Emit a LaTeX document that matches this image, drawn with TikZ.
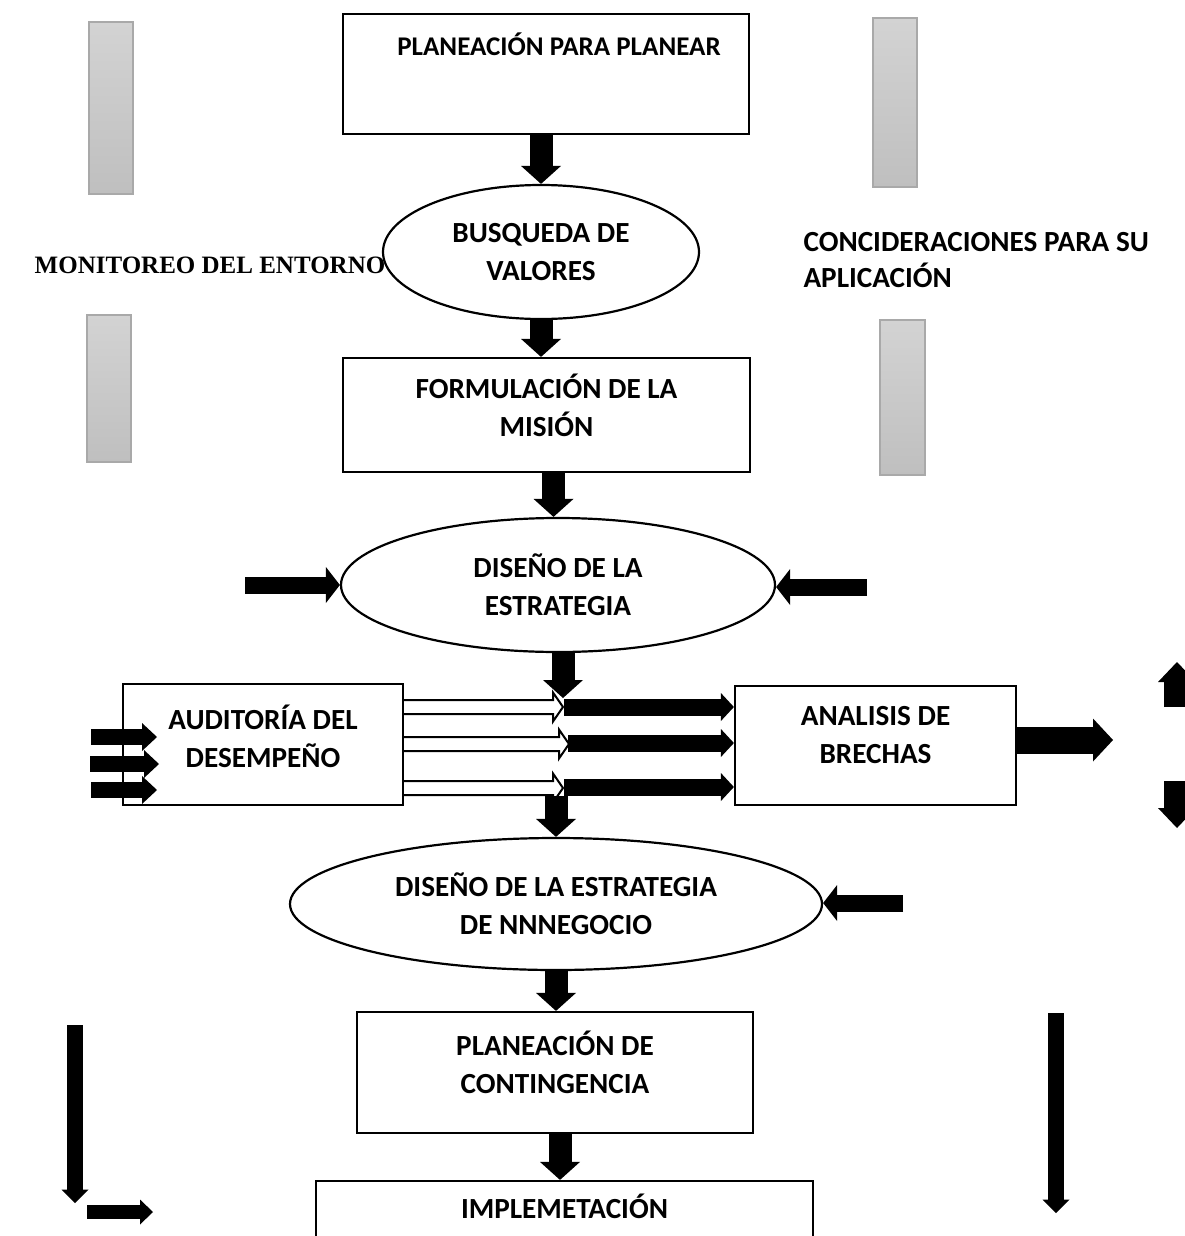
\documentclass[tikz,border=0pt]{standalone}
\usepackage{fontspec}
\setmainfont{Carlito}
\newfontfamily\serifbold{Liberation Serif}
\usetikzlibrary{arrows.meta,shapes.geometric,calc}

\definecolor{bartop}{HTML}{D3D3D3}
\definecolor{barbot}{HTML}{BFBFBF}
\definecolor{barline}{HTML}{A9A9A9}

\tikzset{
  txt/.style={font=\bfseries\fontsize{29.2}{38}\selectfont, align=center},
  box/.style={draw, line width=2.2pt, rectangle, inner sep=0pt},
  oval/.style={draw, line width=2.2pt, ellipse, inner sep=0pt, txt},
  bar/.style={draw=barline, line width=2pt, top color=bartop, bottom color=barbot},
  % block arrows drawn as thick strokes ending in a filled triangle
  fatdown/.style={line width=23pt, -{Triangle[width=40pt,length=18pt,line width'=0pt]}},
  hfat/.style={line width=17pt, -{Triangle[width=36pt,length=14pt,line width'=0pt]}},
  feed/.style={line width=16pt, -{Triangle[width=28pt,length=15pt,line width'=0pt]}},
  midfat/.style={line width=17pt, -{Triangle[width=28pt,length=13pt,line width'=0pt]}},
  bigfat/.style={line width=27pt, -{Triangle[width=43pt,length=20pt,line width'=0pt]}},
  edgefat/.style={line width=26pt, -{Triangle[width=38pt,length=20pt,line width'=0pt]}},
  thinfat/.style={line width=16.5pt, -{Triangle[width=27pt,length=13.5pt,line width'=0pt]}},
  smallfat/.style={line width=14pt, -{Triangle[width=25pt,length=13pt,line width'=0pt]}},
  hollowline/.style={draw=black, fill=white, line width=2pt, line join=miter},
}

% outlined arrow running right from #1 to the tip #2
\newcommand\hollowarrow[2]{%
  \path[hollowline] ($(#1)+(0,-7)$) -- ($(#2)+(-10,-7)$) -- ($(#2)+(-10,-14.5)$)
    -- (#2) -- ($(#2)+(-10,14.5)$) -- ($(#2)+(-10,7)$) -- ($(#1)+(0,7)$);}

\begin{document}
\begin{tikzpicture}[x=1pt,y=-1pt]
\useasboundingbox (0,0) rectangle (1185,1236);
\clip (0,0) rectangle (1185,1236);

% grey side bars
\path[bar] (89,22) rectangle (133,194);
\path[bar] (873,18) rectangle (917,187);
\path[bar] (87,315) rectangle (131,462);
\path[bar] (880,320) rectangle (925,475);

% side captions
\node[font=\serifbold\bfseries\fontsize{25}{30}\selectfont] (moni) at (210,265) {MONITOREO DEL ENTORNO};
\node[align=left, anchor=west, font=\bfseries\fontsize{29.2}{36}\selectfont] (consid) at (800,260)
  {CONCIDERACIONES PARA SU\\APLICACIÓN};

% main flow
\node[box, minimum width=406pt, minimum height=120pt,
  label={[txt, font=\bfseries\fontsize{27}{38}\selectfont, anchor=base, xshift=13pt, yshift=-43pt]north:PLANEACIÓN PARA PLANEAR}] (plan) at (546,74) {};
\node[oval, minimum width=316pt, minimum height=134pt] (bus) at (541,252) {BUSQUEDA DE\\VALORES};
\node[box, minimum width=407pt, minimum height=114pt,
  label={[txt, yshift=10pt]center:FORMULACIÓN DE LA\\MISIÓN}] (form) at (546.5,415) {};
\node[oval, minimum width=434pt, minimum height=134pt] (dis) at (558,585) {DISEÑO DE LA\\ESTRATEGIA};
\node[box, minimum width=280pt, minimum height=121pt,
  label={[txt, yshift=8pt]center:AUDITORÍA DEL\\DESEMPEÑO}] (aud) at (263,744.5) {};
\node[box, minimum width=281pt, minimum height=119pt,
  label={[txt, yshift=10pt]center:ANALISIS DE\\BRECHAS}] (ana) at (875.5,745.5) {};
\node[oval, minimum width=532pt, minimum height=132pt] (neg) at (556,904) {DISEÑO DE LA ESTRATEGIA\\DE NNNEGOCIO};
\node[box, minimum width=396pt, minimum height=121pt,
  label={[txt, yshift=10pt]center:PLANEACIÓN DE\\CONTINGENCIA}] (cont) at (555,1072.5) {};
\node[box, minimum width=497pt, minimum height=120pt,
  label={[txt, anchor=base, yshift=-39pt]north:IMPLEMETACIÓN}] (impl) at (564.5,1241) {};

% free ends of the arrows
\coordinate (f1) at ([xshift=7pt]form.south);
\coordinate (j0) at (563,698);
\coordinate (j5) at (556,796);
\coordinate (k1) at ([xshift=5pt]cont.south);
\coordinate (dl) at (245,585);
\coordinate (dr) at (867,587);
\coordinate (nr) at (903,903);
\coordinate (h1) at (563,707);
\coordinate (h2) at (569,744);
\coordinate (h3) at (563,788);
\coordinate (g1) at (564,707);
\coordinate (g2) at (568,743);
\coordinate (g3) at (564,787);
\coordinate (br) at (1113,740);

% outlined arrows leaving the audit box
\hollowarrow{h1 -| aud.east}{h1}
\hollowarrow{h2 -| aud.east}{h2}
\hollowarrow{h3 -| aud.east}{h3}

% vertical flow arrows
\draw[fatdown] (plan.south -| bus.north) -- (bus.north);
\draw[fatdown] (bus.south) -- (bus.south |- form.north);
\draw[fatdown] (f1) -- (f1 |- dis.north);
\draw[fatdown] (j0 |- dis.south) -- (j0);
\draw[fatdown] (j5) -- (j5 |- neg.north);
\draw[fatdown] (neg.south) -- (neg.south |- cont.north);
\draw[fatdown] (k1) -- (k1 |- impl.north);

% side inputs
\draw[hfat] (dl) -- (dl -| dis.west);
\draw[hfat] (dr) -- (dr -| dis.east);
\draw[hfat] (nr) -- (nr -| neg.east);

% inputs into the audit box
\coordinate (a1) at (91,737);  \coordinate (a1t) at (157,737);
\coordinate (a2) at (90,764);  \coordinate (a2t) at (159,764);
\coordinate (a3) at (91,790);  \coordinate (a3t) at (157,790);
\draw[feed] (a1) -- (a1t);
\draw[feed] (a2) -- (a2t);
\draw[feed] (a3) -- (a3t);

% arrows into the gap analysis
\draw[midfat] (g1) -- (g1 -| ana.west);
\draw[midfat] (g2) -- (g2 -| ana.west);
\draw[midfat] (g3) -- (g3 -| ana.west);
\draw[bigfat] (br -| ana.east) -- (br);

% arrows at the right edge
\coordinate (u0) at (1177,707); \coordinate (u1) at (1177,662);
\coordinate (d0) at (1177,781); \coordinate (d1) at (1177,828);
\draw[edgefat] (u0) -- (u1);
\draw[edgefat] (d0) -- (d1);

% long arrows at the bottom
\coordinate (l0) at (75,1025); \coordinate (l1) at (75,1203);
\coordinate (m0) at (87,1212); \coordinate (m1) at (153,1212);
\coordinate (r0) at (1056,1013); \coordinate (r1) at (1056,1213);
\draw[thinfat] (l0) -- (l1);
\draw[smallfat] (m0) -- (m1);
\draw[thinfat] (r0) -- (r1);
\end{tikzpicture}
\end{document}
